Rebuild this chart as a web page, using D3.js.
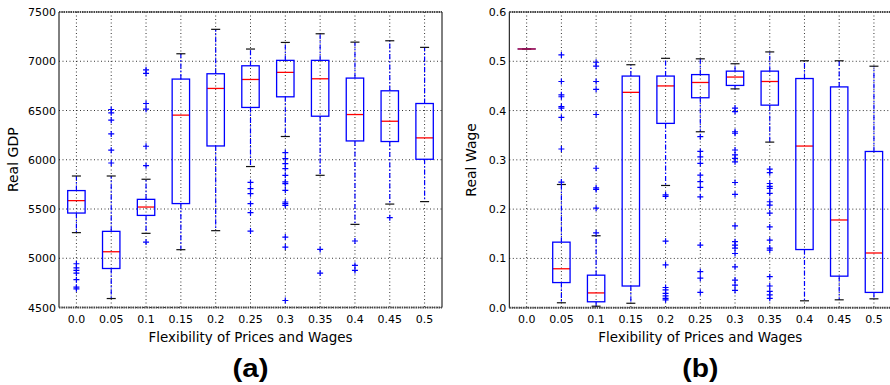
<!DOCTYPE html>
<html>
<head>
<meta charset="utf-8">
<script src="https://cdn.jsdelivr.net/npm/d3@7"></script>
<style>
  body { margin: 0; background: #fff; }
  svg { display: block; }
  text { font-family: "DejaVu Sans", sans-serif; fill: #000; }
</style>
</head>
<body>
<div id="chart"></div>
<script>
// categories (flexibility of prices and wages)
var categories = ["0.0", "0.05", "0.1", "0.15", "0.2", "0.25", "0.3", "0.35", "0.4", "0.45", "0.5"];

// panel (a): Real GDP box stats
var gdpLow  = [5260, 4591, 5253, 5087, 5280, 5931, 6236, 5842, 5344, 5550, 5575];
var gdpQ1   = [5459, 4896, 5435, 5555, 6140, 6531, 6639, 6442, 6191, 6185, 6005];
var gdpMed  = [5585, 5066, 5520, 6453, 6724, 6815, 6887, 6822, 6459, 6391, 6222];
var gdpQ3   = [5687, 5273, 5598, 6819, 6873, 6954, 7009, 7009, 6829, 6700, 6571];
var gdpHigh = [5835, 5835, 5802, 7076, 7324, 7124, 7191, 7279, 7194, 7208, 7141];
var gdpOut  = [
  [4944, 4903, 4876, 4849, 4782, 4706, 4690],
  [6510, 6476, 6402, 6262, 6097, 5967],
  [6913, 6876, 6571, 6513, 6137, 5940, 5164],
  [],
  [],
  [5770, 5707, 5656, 5554, 5463, 5276],
  [6073, 6012, 5961, 5910, 5842, 5775, 5757, 5690, 5571, 5554, 5537, 5215, 5113, 4571],
  [5090, 4849],
  [5175, 4927, 4876],
  [5412],
  []
];

// panel (b): Real Wage box stats
var wageLow  = [0.525, 0.010, 0.003, 0.009, 0.248, 0.357, 0.444, 0.336, 0.014, 0.016, 0.018];
var wageQ1   = [0.525, 0.051, 0.012, 0.044, 0.374, 0.426, 0.451, 0.411, 0.118, 0.064, 0.031];
var wageMed  = [0.525, 0.079, 0.030, 0.437, 0.450, 0.457, 0.468, 0.459, 0.328, 0.178, 0.111];
var wageQ3   = [0.525, 0.133, 0.066, 0.470, 0.470, 0.473, 0.480, 0.480, 0.465, 0.448, 0.317];
var wageHigh = [0.525, 0.250, 0.146, 0.493, 0.506, 0.505, 0.495, 0.519, 0.501, 0.501, 0.490];
var wageOut  = [
  [],
  [0.513, 0.459, 0.432, 0.428, 0.408, 0.405, 0.386, 0.322, 0.255],
  [0.498, 0.490, 0.459, 0.443, 0.392, 0.283, 0.243, 0.240, 0.202, 0.152],
  [],
  [0.229, 0.226, 0.135, 0.087, 0.041, 0.036, 0.029, 0.024, 0.019, 0.016],
  [0.347, 0.317, 0.306, 0.293, 0.269, 0.256, 0.244, 0.225, 0.127, 0.073, 0.060, 0.031],
  [0.405, 0.398, 0.357, 0.354, 0.320, 0.310, 0.303, 0.296, 0.254, 0.230, 0.166, 0.134, 0.127, 0.121, 0.110, 0.083, 0.056, 0.046, 0.035],
  [0.281, 0.274, 0.252, 0.246, 0.242, 0.232, 0.215, 0.208, 0.192, 0.164, 0.137, 0.121, 0.117, 0.063, 0.044, 0.033, 0.026, 0.019],
  [],
  [],
  []
];

var gdpTicks  = [4500, 5000, 5500, 6000, 6500, 7000, 7500];
var wageTicks = [0.0, 0.1, 0.2, 0.3, 0.4, 0.5, 0.6];

var W = 890, H = 385;
var svg = d3.select("#chart").append("svg")
  .attr("width", W).attr("height", H);

function drawPanel(cfg) {
  var g = svg.append("g");
  var x = d3.scaleBand().domain(categories).range([cfg.x0, cfg.x1]).padding(0);
  var y = d3.scaleLinear().domain(cfg.domain).range([cfg.y1, cfg.y0]);
  var bw = x.bandwidth();
  var cx = function(c) { return x(c) + bw / 2; };

  // grid (dotted)
  g.selectAll(".vgrid").data(categories).enter().append("line")
    .attr("x1", cx).attr("x2", cx)
    .attr("y1", cfg.y0).attr("y2", cfg.y1)
    .attr("stroke", "#000").attr("stroke-width", 0.8)
    .attr("stroke-dasharray", "1,2.5");
  g.selectAll(".hgrid").data(cfg.ticks).enter().append("line")
    .attr("x1", cfg.x0).attr("x2", cfg.x1)
    .attr("y1", d => y(d)).attr("y2", d => y(d))
    .attr("stroke", "#000").attr("stroke-width", 0.8)
    .attr("stroke-dasharray", "1,2.5");

  var stats = categories.map(function(c, i) {
    return { c: c, lo: cfg.low[i], q1: cfg.q1[i], med: cfg.med[i], q3: cfg.q3[i], hi: cfg.high[i], out: cfg.out[i] };
  });

  var box = g.selectAll(".box").data(stats).enter().append("g");

  // whiskers (dash-dot blue)
  box.append("line")
    .attr("x1", d => cx(d.c)).attr("x2", d => cx(d.c))
    .attr("y1", d => y(d.q3)).attr("y2", d => y(d.hi))
    .attr("stroke", "#0000ff").attr("stroke-width", 1.2)
    .attr("stroke-dasharray", "5,2,1.5,2");
  box.append("line")
    .attr("x1", d => cx(d.c)).attr("x2", d => cx(d.c))
    .attr("y1", d => y(d.q1)).attr("y2", d => y(d.lo))
    .attr("stroke", "#0000ff").attr("stroke-width", 1.2)
    .attr("stroke-dasharray", "5,2,1.5,2");

  // caps
  ["lo", "hi"].forEach(function(k) {
    box.append("line")
      .attr("x1", d => cx(d.c) - bw * 0.13).attr("x2", d => cx(d.c) + bw * 0.13)
      .attr("y1", d => y(d[k])).attr("y2", d => y(d[k]))
      .attr("stroke", "#111").attr("stroke-width", 1.2);
  });

  // median
  box.append("line")
    .attr("x1", d => cx(d.c) - bw * 0.25).attr("x2", d => cx(d.c) + bw * 0.25)
    .attr("y1", d => y(d.med)).attr("y2", d => y(d.med))
    .attr("stroke", "#ff0000").attr("stroke-width", 1.3);

  // box
  box.append("rect")
    .attr("x", d => cx(d.c) - bw * 0.25)
    .attr("width", bw * 0.5)
    .attr("y", d => y(d.q3))
    .attr("height", d => Math.max(0.01, y(d.q1) - y(d.q3)))
    .attr("fill", "none")
    .attr("stroke", d => d.q1 === d.q3 ? "#7a1a7a" : "#0000ff")
    .attr("stroke-width", 1.3);

  // outliers (+)
  box.each(function(d) {
    d3.select(this).selectAll(".flier").data(d.out).enter().append("path")
      .attr("d", v => "M" + (cx(d.c) - 3) + "," + y(v) + "h6M" + cx(d.c) + "," + (y(v) - 3) + "v6")
      .attr("stroke", "#0000ff").attr("stroke-width", 1.2).attr("fill", "none");
  });

  // frame
  var left = d3.axisLeft(y).tickValues(cfg.ticks).tickFormat(cfg.fmt).tickSize(0).tickPadding(3);
  g.append("g").attr("transform", "translate(" + cfg.x0 + ",0)").call(left)
    .call(a => a.select(".domain").remove())
    .selectAll("text").style("font-size", "11px").style("font-family", "DejaVu Sans");

  var bottom = d3.axisBottom(x).tickSize(0).tickPadding(8);
  g.append("g").attr("transform", "translate(0," + cfg.y1 + ")").call(bottom)
    .call(a => a.select(".domain").remove())
    .selectAll("text").style("font-size", "11px").style("font-family", "DejaVu Sans");

  g.append("line").attr("x1", cfg.x0).attr("x2", cfg.x0).attr("y1", cfg.y0).attr("y2", cfg.y1)
    .attr("stroke", "#000").attr("stroke-width", 1);
  g.append("line").attr("x1", cfg.x1).attr("x2", cfg.x1).attr("y1", cfg.y0).attr("y2", cfg.y1)
    .attr("stroke", "#000").attr("stroke-width", 1);
  [cfg.y0, cfg.y1].forEach(function(yy) {
    g.append("line").attr("x1", cfg.x0).attr("x2", cfg.x1).attr("y1", yy).attr("y2", yy)
      .attr("stroke", "#444").attr("stroke-width", 2).attr("stroke-dasharray", "1.5,0.8");
  });

  // labels
  g.append("text")
    .attr("transform", "translate(" + cfg.ylabX + "," + ((cfg.y0 + cfg.y1) / 2) + ") rotate(-90)")
    .attr("text-anchor", "middle").attr("dy", "0.35em")
    .style("font-size", "14px")
    .text(cfg.ylabel);
  var midAxis = (cfg.x0 + cfg.x1) / 2;
  g.append("text")
    .attr("x", midAxis).attr("y", 342)
    .attr("text-anchor", "middle")
    .attr("textLength", 204).attr("lengthAdjust", "spacingAndGlyphs")
    .style("font-size", "14px")
    .text("Flexibility of Prices and Wages");
  g.append("text")
    .attr("x", midAxis).attr("y", 377)
    .attr("text-anchor", "middle")
    .attr("textLength", 36).attr("lengthAdjust", "spacingAndGlyphs")
    .style("font-size", "25px").style("font-weight", "bold")
    .style("font-family", "Liberation Sans, Arial, sans-serif")
    .text(cfg.tag);
}

drawPanel({
  x0: 59, x1: 442, y0: 12, y1: 307.5,
  domain: [4500, 7500], ticks: gdpTicks, fmt: d3.format("d"),
  low: gdpLow, q1: gdpQ1, med: gdpMed, q3: gdpQ3, high: gdpHigh, out: gdpOut,
  ylabel: "Real GDP", ylabX: 13, tag: "(a)"
});

drawPanel({
  x0: 509.3, x1: 891.3, y0: 12, y1: 307.7,
  domain: [0, 0.6], ticks: wageTicks, fmt: d3.format(".1f"),
  low: wageLow, q1: wageQ1, med: wageMed, q3: wageQ3, high: wageHigh, out: wageOut,
  ylabel: "Real Wage", ylabX: 471, tag: "(b)"
});
</script>
</body>
</html>
